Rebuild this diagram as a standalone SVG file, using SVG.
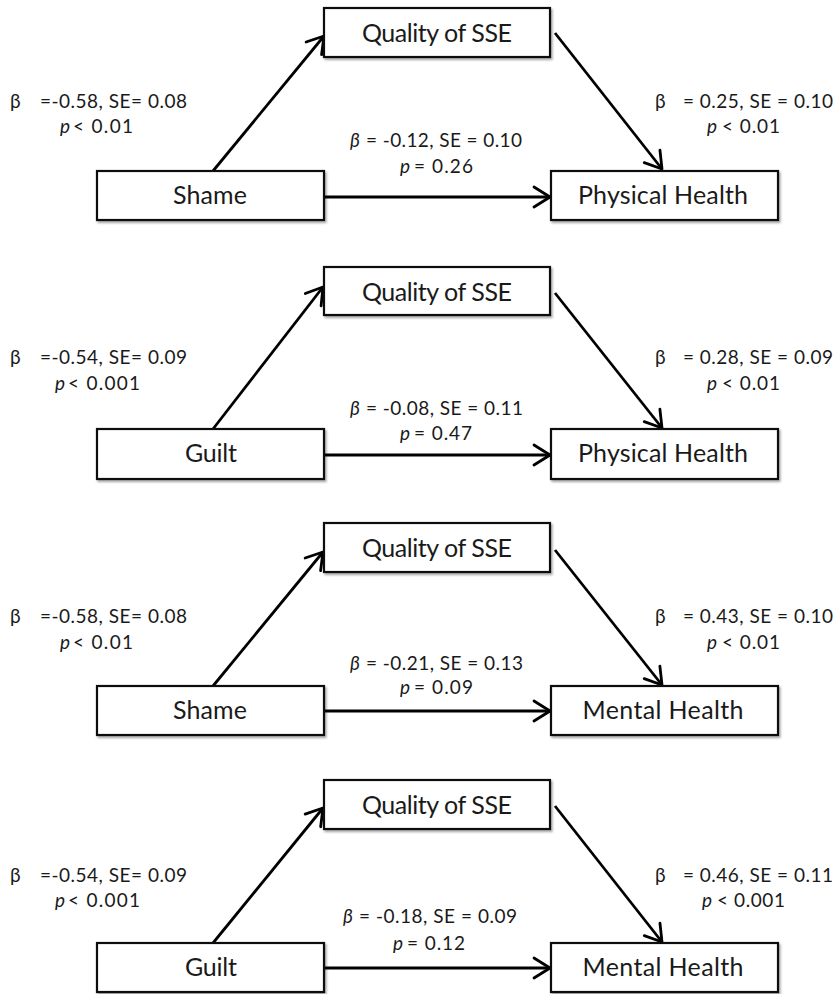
<svg xmlns="http://www.w3.org/2000/svg" width="837" height="994" viewBox="0 0 837 994">
<style>
  .box{fill:#fff;stroke:#111;stroke-width:2.2;filter:url(#sh)}
  .lbl{font-family:Lato,"Open Sans",sans-serif;font-size:25px;fill:#1a1a1a;text-anchor:middle}
  .ann{font-family:Lato,"Open Sans",sans-serif;font-size:19px;fill:#1a1a1a}
  .it{font-style:italic}
  .con{stroke:#000;stroke-width:2.8;fill:none;marker-end:url(#ah)}
</style>
<defs>
  <filter id="sh" x="-5%" y="-10%" width="115%" height="140%">
    <feDropShadow dx="1.5" dy="2" stdDeviation="1.3" flood-color="#000" flood-opacity="0.35"/>
  </filter>
  <marker id="ah" markerUnits="userSpaceOnUse" markerWidth="22" markerHeight="26" viewBox="0 0 22 26" refX="19" refY="13" orient="auto">
    <path d="M3,3 L19,13 L3,23" fill="none" stroke="#000" stroke-width="2.8" stroke-linejoin="round" stroke-linecap="round"/>
  </marker>
</defs>
<rect width="837" height="994" fill="#fff"/>

<g id="connectors">
  <line class="con" x1="213" y1="171" x2="324" y2="36"/>
  <line class="con" x1="555" y1="33" x2="662" y2="169"/>
  <line class="con" x1="324" y1="197" x2="550" y2="197"/>

  <line class="con" x1="213" y1="429" x2="323" y2="287"/>
  <line class="con" x1="555" y1="293" x2="662" y2="428"/>
  <line class="con" x1="324" y1="455" x2="550" y2="455"/>

  <line class="con" x1="213" y1="686" x2="323" y2="552"/>
  <line class="con" x1="555" y1="550" x2="662" y2="685"/>
  <line class="con" x1="324" y1="711" x2="550" y2="711"/>

  <line class="con" x1="213" y1="943" x2="323" y2="808"/>
  <line class="con" x1="555" y1="806" x2="662" y2="942"/>
  <line class="con" x1="324" y1="968" x2="550" y2="968"/>
</g>

<!-- Panel 1 -->
<g id="sse1"><rect class="box" x="324" y="8" width="226" height="49"/><text class="lbl" x="437" y="42" textLength="150">Quality of SSE</text></g>
<g id="shame1"><rect class="box" x="97" y="171" width="227" height="49"/><text class="lbl" x="210" y="204" textLength="74">Shame</text></g>
<g id="ph1"><rect class="box" x="551" y="171" width="227" height="49"/><text class="lbl" x="663" y="204" textLength="170">Physical Health</text></g>

<!-- Panel 2 -->
<g id="sse2"><rect class="box" x="324" y="267" width="226" height="48"/><text class="lbl" x="437" y="301" textLength="150">Quality of SSE</text></g>
<g id="guilt2"><rect class="box" x="97" y="429" width="227" height="50"/><text class="lbl" x="211" y="462" textLength="52">Guilt</text></g>
<g id="ph2"><rect class="box" x="551" y="429" width="227" height="50"/><text class="lbl" x="663" y="462" textLength="170">Physical Health</text></g>

<!-- Panel 3 -->
<g id="sse3"><rect class="box" x="324" y="523" width="226" height="49"/><text class="lbl" x="437" y="557" textLength="150">Quality of SSE</text></g>
<g id="shame3"><rect class="box" x="97" y="686" width="227" height="49"/><text class="lbl" x="210" y="719" textLength="74">Shame</text></g>
<g id="mh3"><rect class="box" x="551" y="686" width="227" height="49"/><text class="lbl" x="663" y="719" textLength="161">Mental Health</text></g>

<!-- Panel 4 -->
<g id="sse4"><rect class="box" x="324" y="780" width="226" height="49"/><text class="lbl" x="437" y="814" textLength="150">Quality of SSE</text></g>
<g id="guilt4"><rect class="box" x="97" y="943" width="227" height="49"/><text class="lbl" x="211" y="976" textLength="52">Guilt</text></g>
<g id="mh4"><rect class="box" x="551" y="943" width="227" height="49"/><text class="lbl" x="663" y="976" textLength="161">Mental Health</text></g>

<g id="labels">
  <!-- Panel 1 -->
  <text class="ann" x="10" y="108">β</text>
  <text class="ann" x="40" y="108" textLength="147">=-0.58, SE= 0.08</text>
  <text class="ann it" x="60" y="133">p</text>
  <text class="ann" x="73" y="133" textLength="60">&lt; 0.01</text>
  <text class="ann" x="655" y="108">β</text>
  <text class="ann" x="683" y="108" textLength="150">= 0.25, SE = 0.10</text>
  <text class="ann it" x="707" y="133">p</text>
  <text class="ann" x="722" y="133" textLength="58">&lt; 0.01</text>
  <text class="ann it" x="350" y="147">β</text>
  <text class="ann" x="366" y="147" textLength="156">= -0.12, SE = 0.10</text>
  <text class="ann it" x="400" y="173">p</text>
  <text class="ann" x="414" y="173" textLength="59">= 0.26</text>

  <!-- Panel 2 -->
  <text class="ann" x="10" y="364">β</text>
  <text class="ann" x="40" y="364" textLength="147">=-0.54, SE= 0.09</text>
  <text class="ann it" x="55" y="390">p</text>
  <text class="ann" x="68" y="390" textLength="72">&lt; 0.001</text>
  <text class="ann" x="655" y="364">β</text>
  <text class="ann" x="683" y="364" textLength="150">= 0.28, SE = 0.09</text>
  <text class="ann it" x="707" y="390">p</text>
  <text class="ann" x="722" y="390" textLength="58">&lt; 0.01</text>
  <text class="ann it" x="350" y="415">β</text>
  <text class="ann" x="366" y="415" textLength="157">= -0.08, SE = 0.11</text>
  <text class="ann it" x="400" y="440">p</text>
  <text class="ann" x="414" y="440" textLength="58">= 0.47</text>

  <!-- Panel 3 -->
  <text class="ann" x="10" y="623">β</text>
  <text class="ann" x="40" y="623" textLength="147">=-0.58, SE= 0.08</text>
  <text class="ann it" x="60" y="649">p</text>
  <text class="ann" x="73" y="649" textLength="60">&lt; 0.01</text>
  <text class="ann" x="655" y="623">β</text>
  <text class="ann" x="683" y="623" textLength="150">= 0.43, SE = 0.10</text>
  <text class="ann it" x="707" y="649">p</text>
  <text class="ann" x="722" y="649" textLength="58">&lt; 0.01</text>
  <text class="ann it" x="350" y="670">β</text>
  <text class="ann" x="366" y="670" textLength="157">= -0.21, SE = 0.13</text>
  <text class="ann it" x="400" y="694">p</text>
  <text class="ann" x="414" y="694" textLength="59">= 0.09</text>

  <!-- Panel 4 -->
  <text class="ann" x="10" y="882">β</text>
  <text class="ann" x="40" y="882" textLength="147">=-0.54, SE= 0.09</text>
  <text class="ann it" x="55" y="907">p</text>
  <text class="ann" x="68" y="907" textLength="72">&lt; 0.001</text>
  <text class="ann" x="655" y="882">β</text>
  <text class="ann" x="683" y="882" textLength="150">= 0.46, SE = 0.11</text>
  <text class="ann it" x="702" y="907">p</text>
  <text class="ann" x="717" y="907" textLength="68">&lt; 0.001</text>
  <text class="ann it" x="343" y="923">β</text>
  <text class="ann" x="359" y="923" textLength="158">= -0.18, SE = 0.09</text>
  <text class="ann it" x="393" y="950">p</text>
  <text class="ann" x="407" y="950" textLength="58">= 0.12</text>
</g>
</svg>
